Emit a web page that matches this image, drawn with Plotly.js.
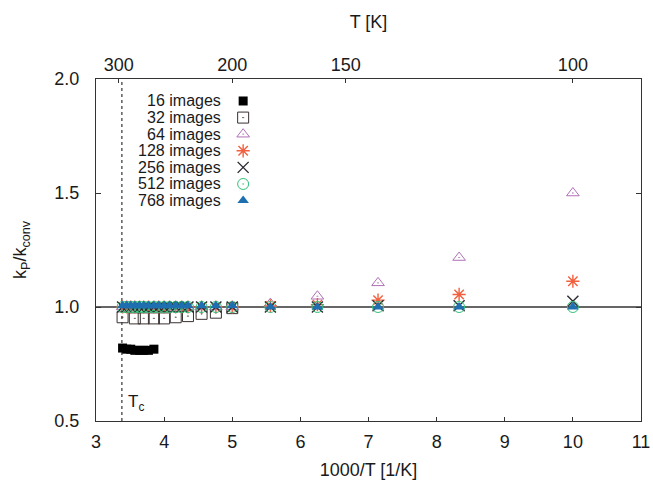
<!DOCTYPE html>
<html>
<head>
<meta charset="utf-8">
<script src="https://cdn.plot.ly/plotly-3.0.1.min.js"></script>
<style>html,body{margin:0;padding:0;background:#fff;}#chart{width:653px;height:486px;}</style>
</head>
<body>
<div id="chart"></div>
<script>
// ---- data ----
const seriesNames = ["16 images","32 images","64 images","128 images","256 images","512 images","768 images"];

const x16 = [3.39, 3.45, 3.51, 3.57, 3.64, 3.70, 3.77, 3.85];
const y16 = [0.82, 0.815, 0.815, 0.81, 0.81, 0.81, 0.81, 0.815];

const x32 = [3.39, 3.57, 3.70, 3.85, 4.00, 4.17, 4.35, 4.55, 4.76, 5.00];
const y32 = [0.955, 0.95, 0.95, 0.95, 0.95, 0.955, 0.96, 0.97, 0.975, 0.995];

const xMany = [3.39, 3.45, 3.51, 3.57, 3.64, 3.70, 3.77, 3.85, 3.92, 4.00, 4.08, 4.17, 4.26, 4.35, 4.55, 4.76, 5.00, 5.56, 6.25, 7.14, 8.33, 10.0];
const y64  = [1.0, 1.0, 1.0, 1.0, 1.0, 1.0, 1.0, 1.0, 1.0, 1.0, 1.0, 1.0, 1.0, 1.0, 1.0, 1.0, 1.0, 1.015, 1.047, 1.106, 1.217, 1.50];
const y128 = [1.0, 1.0, 1.0, 1.0, 1.0, 1.0, 1.0, 1.0, 1.0, 1.0, 1.0, 1.0, 1.0, 1.0, 1.0, 1.0, 1.0, 1.005, 1.01, 1.03, 1.055, 1.113];
const y256 = [1.0, 1.0, 1.0, 1.0, 1.0, 1.0, 1.0, 1.0, 1.0, 1.0, 1.0, 1.0, 1.0, 1.0, 1.0, 1.0, 1.0, 1.0, 1.0, 1.005, 1.005, 1.025];
const y512 = [1.0, 1.0, 1.0, 1.0, 1.0, 1.0, 1.0, 1.0, 1.0, 1.0, 1.0, 1.0, 1.0, 1.0, 1.0, 1.0, 1.0, 1.0, 1.0, 1.0, 1.0, 1.0];
const y768 = [1.005, 1.005, 1.005, 1.005, 1.005, 1.005, 1.005, 1.005, 1.005, 1.005, 1.005, 1.005, 1.005, 1.005, 1.005, 1.005, 1.005, 1.0, 1.0, 1.0, 1.0, 1.0];

const topTickT = ["300","200","150","100"];
const topTickVals = [1000/300, 1000/200, 1000/150, 1000/100];
const bottomTicks = [3,4,5,6,7,8,9,10,11];
const yTicks = [0.5,1.0,1.5,2.0];
const Tc = 3.38;
const refLevel = 1.0;

// ---- styles ----
const FONT = "Liberation Sans, Arial, Helvetica, sans-serif";
const styles = [
  {symbol:"square", color:"#000000", size:9, lw:0},
  {symbol:"square-open-dot", color:"#3a3030", size:11, lw:1},
  {symbol:"triangle-up-open-dot", color:"#b070b8", size:11, lw:1},
  {symbol:"asterisk-open", color:"#f2603f", size:11, lw:1.4},
  {symbol:"x-thin-open", color:"#2a2a30", size:11, lw:1.4},
  {symbol:"circle-open-dot", color:"#33c07a", size:11, lw:1},
  {symbol:"triangle-up", color:"#1e6fb0", size:10, lw:0}
];
const xs = [x16, x32, xMany, xMany, xMany, xMany, xMany];
const ys = [y16, y32, y64, y128, y256, y512, y768];

const traces = [];
for (let i = 0; i < seriesNames.length; i++) {
  const s = styles[i];
  traces.push({
    x: xs[i], y: ys[i], type: "scatter", mode: "markers", name: seriesNames[i],
    showlegend: false,
    marker: {symbol: s.symbol, color: s.color, size: s.size, line: {color: s.color, width: s.lw}}
  });
}
// legend keys on a hidden overlay axis (rows by index)
const rowIdx = seriesNames.map((_, i) => i);
for (let i = 0; i < seriesNames.length; i++) {
  const s = styles[i];
  traces.push({
    x: [0.27], y: [rowIdx[i]], xaxis: "x3", yaxis: "y3", type: "scatter", mode: "markers",
    showlegend: false, hoverinfo: "skip",
    marker: {symbol: s.symbol, color: s.color, size: s.size, line: {color: s.color, width: s.lw}}
  });
}
// invisible trace to activate top axis
traces.push({x: [3, 11], y: [0.5, 0.5], xaxis: "x2", yaxis: "y", mode: "markers",
  marker: {opacity: 0}, showlegend: false, hoverinfo: "skip"});

const annotations = seriesNames.map((n, i) => ({
  text: n, xref: "paper", yref: "y3", x: 0.232, y: rowIdx[i], xanchor: "right", yanchor: "middle",
  showarrow: false, borderpad: 0, font: {family: FONT, size: 16, color: "#1a1a1a"}
}));
annotations.push({
  text: "T<sub>c</sub>", xref: "x", yref: "y", x: Tc + 0.06, y: 0.58, xanchor: "left", yanchor: "middle",
  showarrow: false, font: {family: FONT, size: 17, color: "#1a1a1a"}
});

const axisFont = {family: FONT, size: 18, color: "#1a1a1a"};
const layout = {
  width: 653, height: 486,
  margin: {l: 96, r: 12, t: 79, b: 65},
  paper_bgcolor: "#fff", plot_bgcolor: "#fff",
  showlegend: false,
  font: axisFont,
  xaxis: {
    range: [3, 11], tickvals: bottomTicks, ticks: "inside", ticklen: 4, tickcolor: "#333",
    showline: true, linecolor: "#333", linewidth: 1.2, mirror: true, showgrid: false, zeroline: false,
    tickfont: axisFont, ticklabelstandoff: 4,
    title: {text: "1000/T [1/K]", font: axisFont, standoff: 12}
  },
  xaxis2: {
    overlaying: "x", side: "top", range: [3, 11], tickvals: topTickVals, ticktext: topTickT,
    ticks: "inside", ticklen: 4, tickcolor: "#333", showgrid: false, zeroline: false, showline: false,
    tickfont: axisFont, ticklabelstandoff: 3,
    title: {text: "T [K]", font: axisFont, standoff: 22}
  },
  yaxis: {
    range: [0.5, 2.0], tickvals: yTicks, tickformat: ".1f", ticks: "inside", ticklen: 5, tickcolor: "#333",
    showline: true, linecolor: "#333", linewidth: 1.2, mirror: "ticks", showgrid: false, zeroline: false,
    tickfont: axisFont, ticklabelstandoff: 12,
    title: {text: "k<sub>P</sub>/k<sub>conv</sub>", font: {family: FONT, size: 18, color: "#1a1a1a"}, standoff: 22}
  },
  xaxis3: {overlaying: "x", range: [0, 1], visible: false, fixedrange: true},
  yaxis3: {overlaying: "y", range: [19.28, -1.325], visible: false, fixedrange: true},
  shapes: [
    {type: "line", xref: "paper", yref: "y", x0: 0, x1: 1, y0: refLevel, y1: refLevel,
     line: {color: "#333", width: 1.5}, layer: "below"},
    {type: "line", xref: "x", yref: "paper", x0: Tc, x1: Tc, y0: 0, y1: 1,
     line: {color: "#333", width: 1.2, dash: "dot"}, layer: "below"}
  ],
  annotations: annotations
};

Plotly.newPlot("chart", traces, layout, {staticPlot: true, displayModeBar: false});
</script>
</body>
</html>
